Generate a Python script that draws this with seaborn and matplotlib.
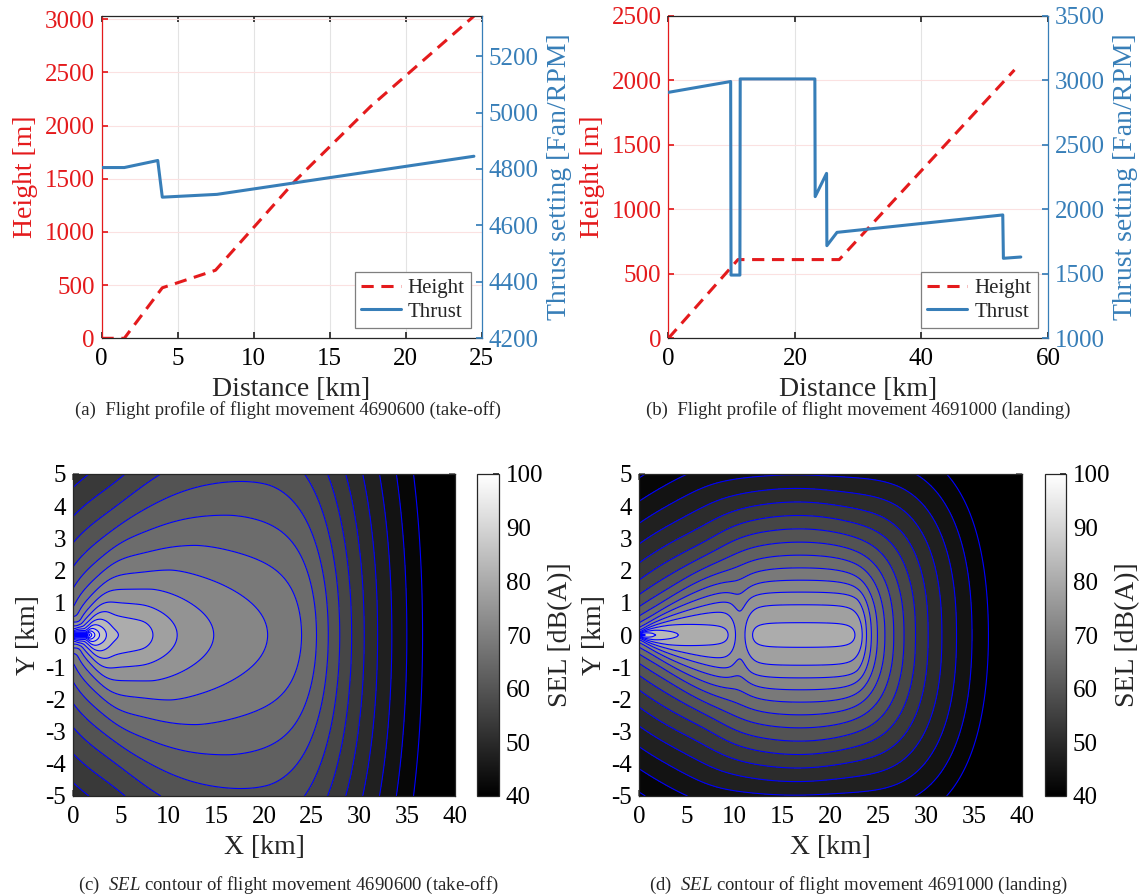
"""
Flight profiles (height + thrust) and SEL noise contours for one
take-off and one landing movement, laid out as a 2x2 paper figure.
"""

import numpy as np
import matplotlib
matplotlib.use("Agg")
import matplotlib.pyplot as plt
import seaborn as sns
from matplotlib.colors import Normalize
from matplotlib.cm import ScalarMappable
from matplotlib.lines import Line2D

### Flight profile data
# take-off, movement 4690600
to_dist_h = [0.0, 1.5, 4.0, 7.5, 12.8, 17.7, 24.5]            # km
to_height = [0, 0, 475, 640, 1490, 2180, 3030]                # m
to_dist_t = [0.0, 1.5, 3.7, 4.0, 7.6, 24.5]                   # km
to_thrust = [4805, 4805, 4830, 4700, 4710, 4845]              # RPM

# landing, movement 4691000
ld_dist_h = [0.0, 11.0, 27.0, 54.7]
ld_height = [0, 610, 610, 2080]
ld_dist_t = [0.0, 9.84, 9.9, 11.3, 11.35, 23.15, 23.2, 25.0, 25.05,
             26.65, 52.85, 52.95, 55.7]
ld_thrust = [2906, 2990, 1490, 1490, 3010, 3010, 2098, 2278, 1718,
             1821, 1956, 1620, 1630]

### Simple noise model used for the SEL grids (one set per movement)
# n: spreading (n*log10 r), a: absorption dB/km, k: dB per 1000 RPM,
# c/e_cut/p: lateral attenuation, l_ref at t_ref: source level
TO_MODEL = dict(n=24, a=1.1, k=10, c=80, e_cut=29, p=4, l_ref=75.5, t_ref=4770)
LD_MODEL = dict(n=20, a=1.2, k=45, c=215, e_cut=29, p=2.5, l_ref=74.5, t_ref=3010)
R0 = 0.03          # km, minimum slant distance
H_RX = 0.005       # km, receiver height
DS = 0.05          # km, path step
LEVELS = np.arange(40, 131, 3)

RED = "#E41A1C"
BLUE = "#377EB8"
EDGE = "#262626"


def sel_grid(dist_h, height, dist_t, thrust, m):
    xg = np.linspace(0, 40, 401)
    yg = np.linspace(-5, 5, 201)
    X, Y = np.meshgrid(xg, yg)
    s = np.arange(dist_h[0], max(dist_h[-1], dist_t[-1]), DS) + DS / 2
    h = np.interp(s, dist_h, np.asarray(height) / 1000.0)
    t = np.interp(s, dist_t, thrust)
    E = np.zeros_like(X)
    ay = np.abs(Y)
    cut = m["c"] / (m["e_cut"] + 0.5)
    for si, hi, ti in zip(s, h, t):
        rh2 = (X - si) ** 2 + Y ** 2
        rh = np.sqrt(rh2) + 1e-9
        r = np.sqrt(rh2 + hi ** 2 + R0 ** 2)
        elev = np.degrees(np.arctan2(hi + H_RX, rh))
        lat = np.clip(m["c"] / (elev + 0.5) - cut, 0, None) * (ay / rh) ** m["p"]
        lvl = m["l_ref"] + m["k"] * (ti - m["t_ref"]) / 1000.0
        E += 10 ** ((lvl - m["n"] * np.log10(r) - m["a"] * r - lat) / 10) * DS
    return X, Y, 10 * np.log10(E)


sns.set_theme(style="ticks")
plt.rcParams.update({
    "font.family": ["Liberation Serif", "DejaVu Serif"],
    "mathtext.fontset": "custom",
    "mathtext.rm": "Liberation Serif",
    "mathtext.it": "Liberation Serif:italic",
    "axes.unicode_minus": False,
    "xtick.direction": "in",
    "ytick.direction": "in",
    "axes.edgecolor": EDGE,
    "axes.linewidth": 0.9,
    "xtick.color": EDGE,
    "ytick.color": EDGE,
    "xtick.labelcolor": "black",
    "ytick.labelcolor": "black",
    "xtick.labelsize": 18,
    "ytick.labelsize": 18,
    "xtick.major.pad": 7,
    "ytick.major.pad": 5,
    "axes.labelsize": 20,
})

W, H = 1141, 896
fig = plt.figure(figsize=(W / 100, H / 100), dpi=100)


def rect(x0, y0, x1, y1):
    return [x0 / W, 1 - y1 / H, (x1 - x0) / W, (y1 - y0) / H]


def profile(pos, dist_h, height, dist_t, thrust, xticks, hlim, hticks,
            tlim, tticks):
    ax = fig.add_axes(pos)
    sns.lineplot(x=dist_h, y=height, ax=ax, color=RED, linewidth=2.2,
                 sort=False, estimator=None)
    ax.lines[-1].set_linestyle((0, (4, 2.5)))
    ax.set_xlim(xticks[0], xticks[-1])
    ax.set_ylim(*hlim)
    ax.set_xticks(xticks)
    ax.set_yticks(hticks)
    ax.grid(axis="x", color="#E3E3E3", linewidth=0.8)
    ax.grid(axis="y", color="#FBE1E1", linewidth=0.8)
    ax.tick_params(axis="x", top=True, length=4)
    ax.tick_params(axis="y", colors=RED, labelcolor=RED, length=4)
    ax.spines["left"].set_color(RED)
    ax.spines["right"].set_visible(False)
    ax.set_xlabel("Distance [km]", labelpad=5)
    ax.set_ylabel("Height [m]", color=RED, labelpad=5)

    ax2 = ax.twinx()
    sns.lineplot(x=dist_t, y=thrust, ax=ax2, color=BLUE, linewidth=2.2,
                 sort=False, estimator=None)
    ax2.set_ylim(*tlim)
    ax2.set_yticks(tticks)
    ax2.tick_params(axis="y", colors=BLUE, labelcolor=BLUE, length=4, pad=5)
    for side in ("left", "top", "bottom"):
        ax2.spines[side].set_visible(False)
    ax2.spines["right"].set_color(BLUE)
    ax2.set_ylabel("Thrust setting [Fan/RPM]", color=BLUE, labelpad=6)

    handles = [Line2D([], [], color=RED, linewidth=2.2, linestyle=(0, (4, 2.5))),
               Line2D([], [], color=BLUE, linewidth=2.2)]
    leg = ax2.legend(handles, ["Height", "Thrust"], loc="lower right",
                     fontsize=15, handlelength=1.9, handletextpad=0.35,
                     borderpad=0.3, labelspacing=0.2, fancybox=False,
                     framealpha=1, edgecolor="#7F7F7F", borderaxespad=0.5)
    leg.get_frame().set_linewidth(0.9)
    return ax, ax2


def contour(pos, cpos, X, Y, Z):
    ax = fig.add_axes(pos)
    cax = fig.add_axes(cpos)
    cmap = plt.get_cmap("gray").copy()
    cmap.set_under("black")
    cmap.set_over("white")
    norm = Normalize(40, 100)
    ax.contourf(X, Y, Z, levels=LEVELS, cmap=cmap, norm=norm, extend="both")
    ax.contour(X, Y, Z, levels=LEVELS, colors="blue", linewidths=0.8)
    ax.set_xlim(0, 40)
    ax.set_ylim(-5, 5)
    ax.set_xticks(range(0, 41, 5))
    ax.set_yticks(range(-5, 6, 1))
    ax.tick_params(top=True, right=True, length=4, color="#666666")
    ax.set_xlabel("X [km]", labelpad=5)
    ax.set_ylabel("Y [km]", labelpad=3)

    cb = fig.colorbar(ScalarMappable(norm=norm, cmap=plt.get_cmap("gray")),
                      cax=cax)
    cb.set_ticks(range(40, 101, 10))
    cb.ax.tick_params(direction="in", length=4, labelsize=18, pad=5)
    cb.outline.set_edgecolor(EDGE)
    cb.set_label("SEL [dB(A)]", fontsize=20, labelpad=3)
    return ax


### (a) / (b) flight profiles
profile(rect(101.5, 15.7, 481.5, 338.3), to_dist_h, to_height, to_dist_t,
        to_thrust, list(range(0, 26, 5)), (0, 3034), range(0, 3001, 500),
        (4200, 5343), range(4200, 5201, 200))
profile(rect(668.4, 15.7, 1048, 338.3), ld_dist_h, ld_height, ld_dist_t,
        ld_thrust, [0, 20, 40, 60], (0, 2500), range(0, 2501, 500),
        (1000, 3500), range(1000, 3501, 500))

### (c) / (d) SEL contours
Xc, Yc, Zc = sel_grid(to_dist_h, to_height, to_dist_t, to_thrust, TO_MODEL)
Xd, Yd, Zd = sel_grid(ld_dist_h, ld_height, ld_dist_t, ld_thrust, LD_MODEL)
contour(rect(73, 474, 455, 796), rect(477, 474, 499, 796), Xc, Yc, Zc)
contour(rect(639, 474, 1022, 796), rect(1044.5, 474, 1066, 796), Xd, Yd, Zd)

### captions
cap = dict(ha="center", va="center", fontsize=13.5)
fig.text(288 / W, 1 - 410 / H,
         "(a)  Flight profile of flight movement 4690600 (take-off)", **cap)
fig.text(858 / W, 1 - 410 / H,
         "(b)  Flight profile of flight movement 4691000 (landing)", **cap)
fig.text(288 / W, 1 - 885 / H,
         "(c)  $SEL$ contour of flight movement 4690600 (take-off)", **cap)
fig.text(858 / W, 1 - 885 / H,
         "(d)  $SEL$ contour of flight movement 4691000 (landing)", **cap)

fig.savefig("out.png", dpi=100)
plt.close(fig)
